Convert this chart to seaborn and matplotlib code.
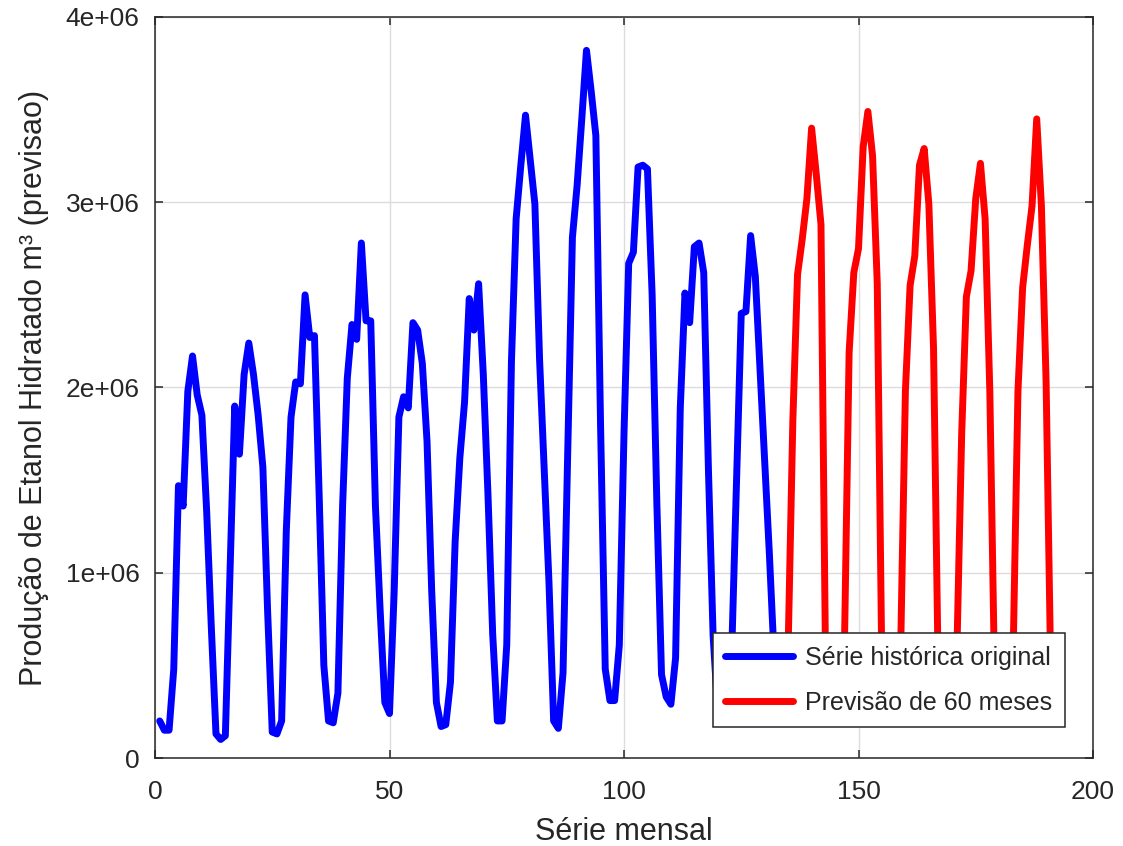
import pandas as pd
import matplotlib
matplotlib.use('Agg')
import matplotlib.pyplot as plt
import seaborn as sns

# valores em milhoes de m3
historico = [
    0.20, 0.15, 0.15, 0.48, 1.47, 1.36, 1.98, 2.17, 1.96, 1.85, 1.34, 0.71,
    0.13, 0.10, 0.12, 1.00, 1.90, 1.64, 2.07, 2.24, 2.07, 1.85, 1.57, 0.80,
    0.14, 0.13, 0.20, 1.23, 1.84, 2.03, 2.02, 2.50, 2.27, 2.28, 1.42, 0.50,
    0.20, 0.19, 0.35, 1.36, 2.05, 2.34, 2.26, 2.78, 2.36, 2.36, 1.36, 0.80,
    0.30, 0.24, 0.90, 1.84, 1.95, 1.89, 2.35, 2.31, 2.13, 1.71, 0.90, 0.30,
    0.17, 0.18, 0.41, 1.17, 1.62, 1.92, 2.48, 2.31, 2.56, 2.07, 1.42, 0.67,
    0.20, 0.20, 0.61, 2.14, 2.91, 3.20, 3.47, 3.23, 2.99, 2.15, 1.55, 0.95,
    0.20, 0.16, 0.46, 1.65, 2.81, 3.09, 3.45, 3.82, 3.60, 3.36, 1.80, 0.48,
    0.31, 0.31, 0.61, 1.75, 2.67, 2.73, 3.19, 3.20, 3.18, 2.50, 1.38, 0.45,
    0.33, 0.29, 0.54, 1.89, 2.51, 2.35, 2.76, 2.78, 2.62, 1.56, 0.66, 0.25,
    0.20, 0.25, 0.60, 1.50, 2.40, 2.41, 2.82, 2.60, 2.10, 1.60, 1.10, 0.55,
]
previsao = [
    0.20, 0.25, 0.60, 1.82, 2.61, 2.80, 3.02, 3.40, 3.15, 2.88, 0.45, 0.25,
    0.20, 0.25, 0.60, 2.19, 2.62, 2.75, 3.30, 3.49, 3.25, 2.56, 0.45, 0.25,
    0.20, 0.25, 0.60, 1.98, 2.55, 2.71, 3.20, 3.29, 2.99, 2.21, 0.45, 0.25,
    0.20, 0.25, 0.60, 1.75, 2.49, 2.63, 3.02, 3.21, 2.91, 1.98, 0.45, 0.25,
    0.20, 0.25, 0.60, 1.98, 2.54, 2.77, 2.98, 3.45, 2.98, 2.03, 0.45, 0.25,
]
xticks = [0, 50, 100, 150, 200]
yticks = [0, 1e6, 2e6, 3e6, 4e6]
ytick_labels = ['0', '1e+06', '2e+06', '3e+06', '4e+06']

df_hist = pd.DataFrame({'mes': range(1, len(historico) + 1),
                        'producao': [v * 1e6 for v in historico]})
df_prev = pd.DataFrame({'mes': range(len(historico) + 1, len(historico) + len(previsao) + 1),
                        'producao': [v * 1e6 for v in previsao]})

sns.set_style('ticks')
plt.rcParams['font.family'] = ['Liberation Sans', 'DejaVu Sans']
plt.rcParams['text.color'] = '#262626'
plt.rcParams['axes.labelcolor'] = '#262626'
plt.rcParams['xtick.color'] = '#262626'
plt.rcParams['ytick.color'] = '#262626'

fig = plt.figure(figsize=(11.23, 8.46), dpi=100)
ax = fig.add_axes([155 / 1123, 88 / 846, 938 / 1123, 741 / 846])

sns.lineplot(data=df_hist, x='mes', y='producao', color='#0000ff', lw=5,
             label='Série histórica original', ax=ax)
sns.lineplot(data=df_prev, x='mes', y='producao', color='#ff0000', lw=5,
             label='Previsão de 60 meses', ax=ax)

ax.set_xlim(0, 200)
ax.set_ylim(0, 4e6)
ax.set_xticks(xticks)
ax.set_xticklabels([str(t) for t in xticks])
ax.set_yticks(yticks)
ax.set_yticklabels(ytick_labels)
ax.grid(True, color='#dcdcdc', lw=1)
ax.tick_params(direction='in', length=6, width=1.1, labelsize=19,
               top=True, right=True)
ax.tick_params(axis='x', pad=16)
ax.tick_params(axis='y', pad=11)
for s in ax.spines.values():
    s.set_color('#262626')
    s.set_linewidth(1.1)
    s.set_visible(True)

ax.set_xlabel('Série mensal', fontsize=22, labelpad=9)
ax.set_ylabel('Produção de Etanol Hidratado m³ (previsao)', fontsize=22, labelpad=12)

leg = ax.legend(loc='lower right', bbox_to_anchor=(910 / 938, 31 / 741),
                borderaxespad=0, fontsize=18, handlelength=2.7,
                handletextpad=0.5, labelspacing=0.83, fancybox=False,
                framealpha=1, edgecolor='#262626', borderpad=0.5)
leg.get_frame().set_linewidth(1.1)
leg.set_zorder(5)

plt.savefig('out.png', dpi=100)
